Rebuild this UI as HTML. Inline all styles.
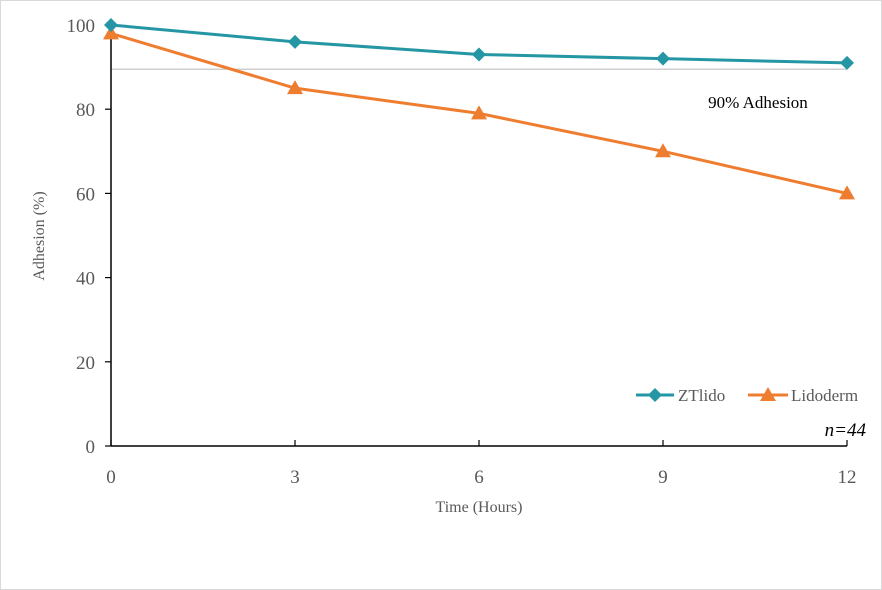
<!DOCTYPE html>
<html><head><meta charset="utf-8"><style>
body{margin:0;background:#fff}
svg{display:block}
text{font-family:"Liberation Serif",serif}
</style></head><body>
<svg id="chart" width="882" height="590">
<rect x="0.5" y="0.5" width="881" height="589" fill="#fff" stroke="#d9d9d9"/>
<g id="g"></g>
</svg>
<script>
const hours=[0,3,6,9,12];
const ztlido=[100,96,93,92,91];
const lidoderm=[98,85,79,70,60];
const yTicks=[0,20,40,60,80,100];
const threshold=89.5;
const X0=111,X1=847,Y0=446,Y1=25;
const xs=v=>X0+(v-0)/(12-0)*(X1-X0);
const ys=v=>Y0-(v/100)*(Y0-Y1);
const NS='http://www.w3.org/2000/svg';
const g=document.getElementById('g');
function mk(t,a,p){const e=document.createElementNS(NS,t);for(const k in a)e.setAttribute(k,a[k]);(p||g).appendChild(e);return e;}
// threshold line
let e=mk('line',{x1:xs(0),x2:xs(12),y1:ys(threshold),y2:ys(threshold),stroke:'#bfbfbf','stroke-width':1.2});


e=mk('text',{x:758,y:108,'font-size':17,fill:'#000','text-anchor':'middle'});e.textContent='90% Adhesion';


// axes
e=mk('line',{x1:X0,x2:X0,y1:Y1-2,y2:Y0,stroke:'#000','stroke-width':1.5});


e=mk('line',{x1:X0,x2:X1,y1:Y0,y2:Y0,stroke:'#000','stroke-width':1.5});


yTicks.forEach(v=>{
 let t=mk('line',{x1:X0-6,x2:X0,y1:ys(v),y2:ys(v),stroke:'#000','stroke-width':1.2});
 
 
 let l=mk('text',{x:95,y:ys(v)+7,'font-size':19,fill:'#595959','text-anchor':'end'});l.textContent=v;
 
 
});
hours.forEach(v=>{
 let t=mk('line',{x1:xs(v),x2:xs(v),y1:Y0-6,y2:Y0,stroke:'#000','stroke-width':1.2});
 
 
 let l=mk('text',{x:xs(v),y:483,'font-size':19,fill:'#595959','text-anchor':'middle'});l.textContent=v;
 
 
});
e=mk('text',{x:479,y:512,'font-size':16,fill:'#595959','text-anchor':'middle'});e.textContent='Time (Hours)';


e=mk('text',{x:0,y:0,'font-size':16,fill:'#595959','text-anchor':'middle',transform:'translate(44,236) rotate(-90)'});e.textContent='Adhesion (%)';


function diamond(cx,cy,p){return mk('polygon',{points:`${cx},${cy-7} ${cx+7},${cy} ${cx},${cy+7} ${cx-7},${cy}`,fill:'#2596a4'},p);}
function tri(cx,cy,p){return mk('polygon',{points:`${cx},${cy-8} ${cx+8},${cy+6} ${cx-8},${cy+6}`,fill:'#ef7d30'},p);}
// series
e=mk('polyline',{points:hours.map((h,i)=>xs(h)+','+ys(lidoderm[i])).join(' '),fill:'none',stroke:'#ef7d30','stroke-width':3});


e=mk('polyline',{points:hours.map((h,i)=>xs(h)+','+ys(ztlido[i])).join(' '),fill:'none',stroke:'#2596a4','stroke-width':3});


hours.forEach((h,i)=>{
 let m=tri(xs(h),ys(lidoderm[i]));
 
 
 let d=diamond(xs(h),ys(ztlido[i]));
 
 
});
// legend
e=mk('line',{x1:636,x2:674,y1:395,y2:395,stroke:'#2596a4','stroke-width':3});


e=diamond(655,395);


e=mk('text',{x:678,y:401,'font-size':17,fill:'#595959'});e.textContent='ZTlido';


e=mk('line',{x1:748,x2:788,y1:395,y2:395,stroke:'#ef7d30','stroke-width':3});


e=tri(768,395);


e=mk('text',{x:791,y:401,'font-size':17,fill:'#595959'});e.textContent='Lidoderm';


e=mk('text',{x:866,y:436,'font-size':19,fill:'#000','font-style':'italic','text-anchor':'end'});e.textContent='n=44';


</script>
</body></html>
